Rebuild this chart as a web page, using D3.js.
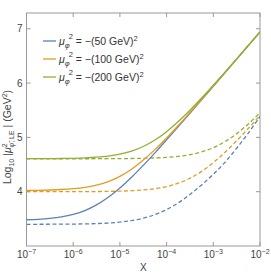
<!DOCTYPE html>
<html><head><meta charset="utf-8">
<script src="https://cdn.jsdelivr.net/npm/d3@7"></script>
<style>body{margin:0;background:#fff}svg{display:block}text{font-family:"Liberation Sans",Arial,sans-serif}</style>
</head><body><svg id="c" width="271" height="277"></svg>
<script>
const logX = [-7,-6.75,-6.5,-6.25,-6,-5.75,-5.5,-5.25,-5,-4.75,-4.5,-4.25,-4,-3.75,-3.5,-3.25,-3,-2.75,-2.5,-2.25,-2];
const blueSolid   = [3.483,3.492,3.509,3.537,3.583,3.653,3.756,3.896,4.068,4.266,4.484,4.715,4.955,5.198,5.445,5.693,5.941,6.19,6.44,6.69,6.94];
const orangeSolid = [4.024,4.026,4.031,4.040,4.055,4.080,4.123,4.186,4.283,4.413,4.582,4.774,4.989,5.218,5.457,5.699,5.945,6.193,6.442,6.691,6.941];
const greenSolid  = [4.607,4.608,4.609,4.611,4.615,4.622,4.635,4.656,4.691,4.747,4.832,4.951,5.105,5.291,5.499,5.724,5.960,6.201,6.446,6.694,6.942];
const blueDashed   = [3.400,3.400,3.401,3.402,3.404,3.407,3.413,3.423,3.440,3.469,3.512,3.578,3.672,3.795,3.950,4.125,4.320,4.540,4.800,5.080,5.385];
const orangeDashed = [4.000,4.000,4.000,4.000,4.001,4.002,4.003,4.006,4.010,4.018,4.032,4.055,4.093,4.156,4.247,4.374,4.535,4.726,4.938,5.166,5.403];
const greenDashed  = [4.606,4.606,4.606,4.606,4.606,4.606,4.607,4.607,4.609,4.611,4.614,4.621,4.631,4.650,4.682,4.733,4.810,4.922,5.069,5.248,5.452];
const legendMasses = ["50","100","200"];
const xTickExps = [-7,-6,-5,-4,-3,-2];
const yTicks = [4,5,6,7];
const colors = ["#5E81B5","#E19C24","#8FB032"];

const svg = d3.select("#c");
const L=26.5, R=260, T=13, B=246;
const x = d3.scaleLinear().domain([-7,-2]).range([L,R]);
const y = d3.scaleLinear().domain([3.0,7.29]).range([B,T]);

svg.append("clipPath").attr("id","clip").append("rect").attr("x",L).attr("y",T).attr("width",R-L).attr("height",B-T);

const frame="#999";
svg.append("rect").attr("x",L).attr("y",T).attr("width",R-L).attr("height",B-T).attr("fill","none").attr("stroke",frame).attr("stroke-width",1);

const tl=4;
xTickExps.forEach(e=>{
  const px=x(e);
  svg.append("line").attr("x1",px).attr("x2",px).attr("y1",B).attr("y2",B-tl).attr("stroke",frame);
  svg.append("line").attr("x1",px).attr("x2",px).attr("y1",T).attr("y2",T+tl).attr("stroke",frame);
  const t=svg.append("text").attr("x",px).attr("y",258).attr("text-anchor","middle").attr("font-size",10).attr("fill","#444");
  t.append("tspan").text("10");
  t.append("tspan").attr("dy",-4).attr("font-size",7).text("\u2212"+(-e));
});
yTicks.forEach(v=>{
  const py=y(v);
  svg.append("line").attr("x1",L).attr("x2",L+tl).attr("y1",py).attr("y2",py).attr("stroke",frame);
  svg.append("line").attr("x1",R).attr("x2",R-tl).attr("y1",py).attr("y2",py).attr("stroke",frame);
  svg.append("text").attr("x",L-4).attr("y",py+3.5).attr("text-anchor","end").attr("font-size",10).attr("fill","#444").text(v);
});

svg.append("text").attr("x",(L+R)/2).attr("y",271).attr("text-anchor","middle").attr("font-size",10).attr("fill","#444").text("X");
const yl = svg.append("text").attr("transform","translate(11,137) rotate(-90)").attr("text-anchor","middle").attr("font-size",10.5).attr("fill","#444");
yl.append("tspan").text("Log");
yl.append("tspan").attr("dy",2.5).attr("font-size",7).text("10");
yl.append("tspan").attr("dy",-2.5).text(" |");
yl.append("tspan").attr("font-style","italic").text("\u03BC");
yl.append("tspan").attr("dy",-4.5).attr("font-size",7).text("2");
yl.append("tspan").attr("dx",-4).attr("dy",7.5).attr("font-size",7).text("\u03C6\u0303, LE");
yl.append("tspan").attr("dy",-3).text(" | (GeV");
yl.append("tspan").attr("dy",-4.5).attr("font-size",7).text("2");
yl.append("tspan").attr("dy",4.5).text(")");

const line = d3.line().x(d=>x(d[0])).y(d=>y(d[1])).curve(d3.curveCatmullRom);
const g = svg.append("g").attr("clip-path","url(#clip)");
const series = [
  [blueDashed,0,true],[orangeDashed,1,true],[greenDashed,2,true],
  [blueSolid,0,false],[orangeSolid,1,false],[greenSolid,2,false]
];
series.forEach(([vals,ci,dash])=>{
  g.append("path").attr("d",line(logX.map((lx,i)=>[lx,vals[i]])))
   .attr("fill","none").attr("stroke",colors[ci]).attr("stroke-width",1.3)
   .attr("stroke-dasharray",dash?"4,2.5":null);
});

legendMasses.forEach((m,i)=>{
  const ly=41+i*18;
  svg.append("line").attr("x1",43).attr("x2",56).attr("y1",ly).attr("y2",ly).attr("stroke",colors[i]).attr("stroke-width",1.3);
  const t=svg.append("text").attr("x",59).attr("y",ly+3.5).attr("font-size",10.5).attr("fill","#333");
  t.append("tspan").attr("font-style","italic").text("\u03BC");
  t.append("tspan").attr("dy",3).attr("font-size",7.5).attr("font-style","italic").text("\u03C6");
  t.append("tspan").attr("dx",-1).attr("dy",-8.5).attr("font-size",7.5).text("2");
  t.append("tspan").attr("dy",5.5).text(" = \u2212("+m+" GeV)");
  t.append("tspan").attr("dy",-4).attr("font-size",7.5).text("2");
});
</script></body></html>
